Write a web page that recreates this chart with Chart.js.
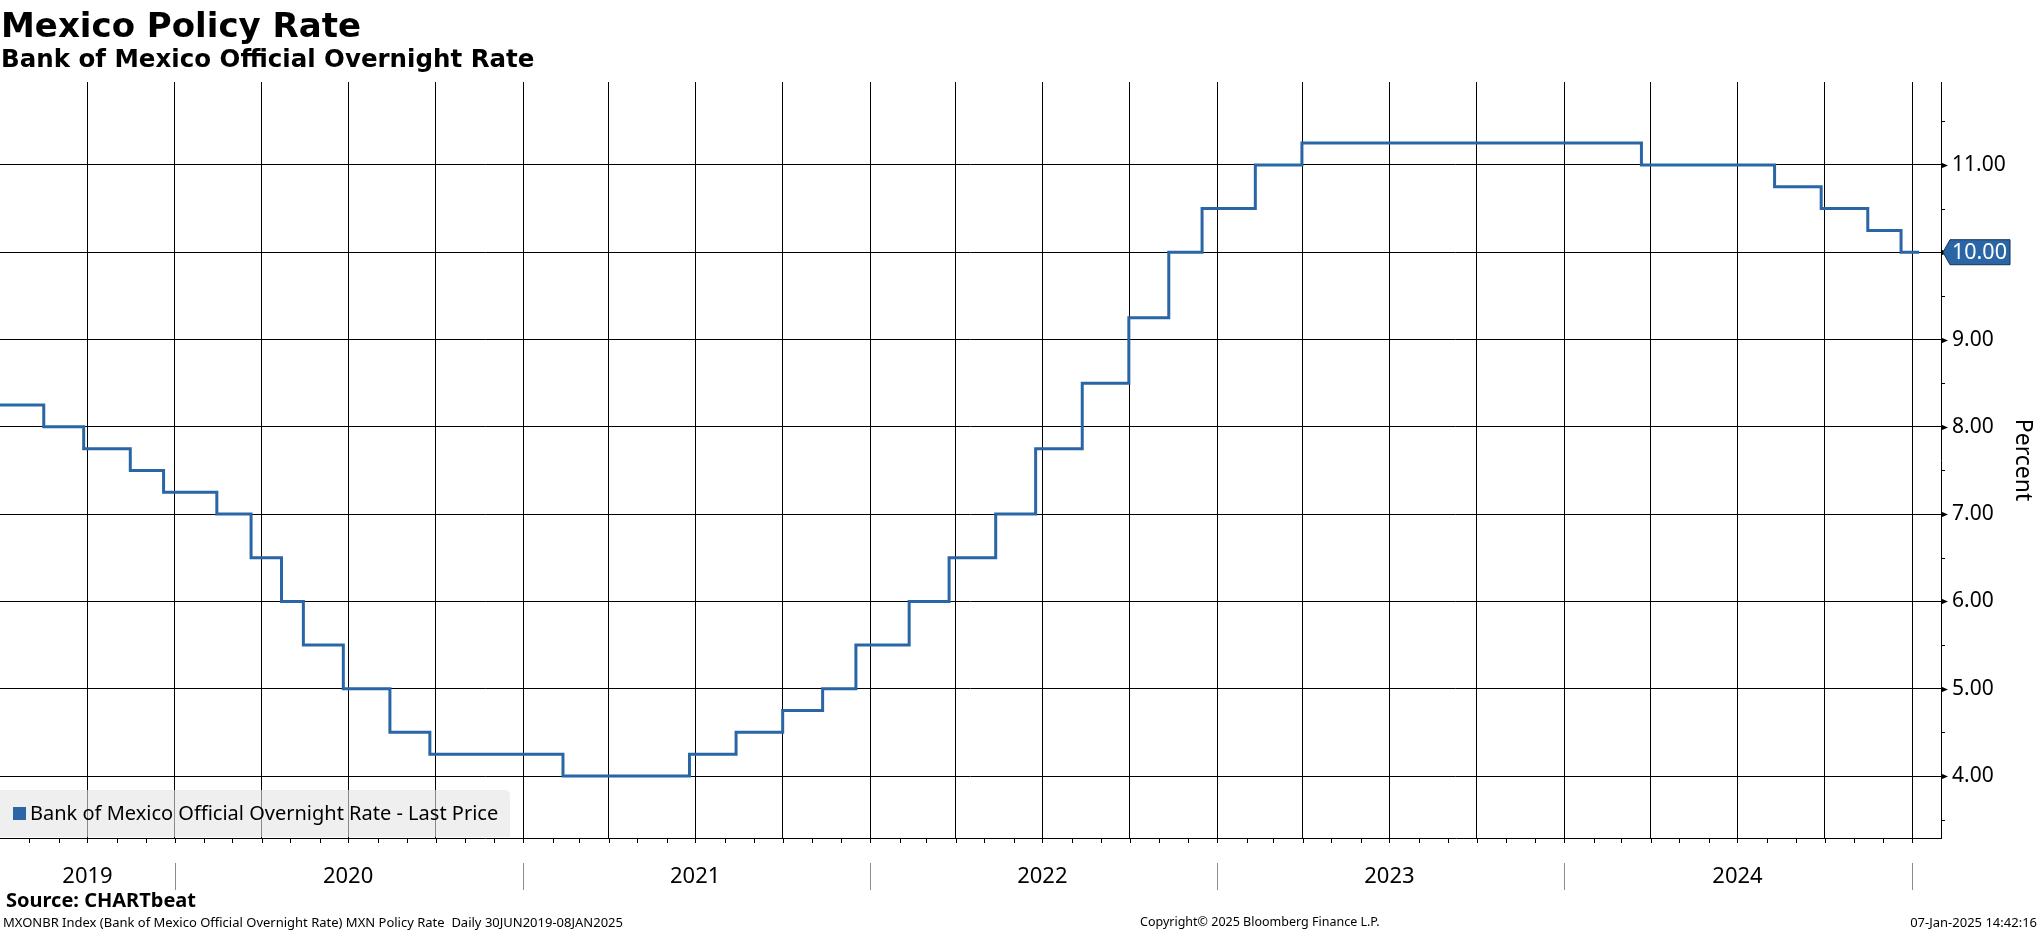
<!DOCTYPE html>
<html><head><meta charset="utf-8">
<script src="https://cdn.jsdelivr.net/npm/chart.js@4.4.1/dist/chart.umd.min.js"></script>
<style>
html,body{margin:0;padding:0;background:#fff;width:2041px;height:932px;overflow:hidden;}
#wrap{position:relative;width:2041px;height:932px;}
canvas{position:absolute;left:0;top:0;}
.t{position:absolute;white-space:nowrap;color:#000;font-family:"Noto Sans","DejaVu Sans",sans-serif;line-height:1;}
.h{font-family:"DejaVu Sans","Noto Sans",sans-serif;font-weight:bold;}
#legend{position:absolute;left:0;top:790px;width:510px;height:47px;background:rgba(228,228,228,0.6);border-top-right-radius:5px;}
#legend .sw{position:absolute;left:13px;top:17px;width:13px;height:13px;background:#2a66a6;}
#legend .lt{position:absolute;left:30px;top:11px;font-size:20px;font-family:"Noto Sans","DejaVu Sans",sans-serif;line-height:24px;white-space:nowrap;}
</style></head><body>
<div id="wrap">
<canvas id="c" width="2041" height="932"></canvas>
<div class="t h" style="left:1px;top:8px;font-size:34px;">Mexico Policy Rate</div>
<div class="t h" style="left:1px;top:47px;font-size:24.5px;">Bank of Mexico Official Overnight Rate</div>
<div id="legend"><div class="sw"></div><div class="lt">Bank of Mexico Official Overnight Rate - Last Price</div></div>
<div class="t" style="left:6px;top:890px;font-size:20px;font-weight:bold;">Source: CHARTbeat</div>
<div class="t" style="left:3px;top:916px;font-size:13px;">MXONBR Index (Bank of Mexico Official Overnight Rate) MXN Policy Rate&nbsp; Daily 30JUN2019-08JAN2025</div>
<div class="t" style="left:1140px;top:916px;font-size:12.5px;">Copyright© 2025 Bloomberg Finance L.P.</div>
<div class="t" style="right:4px;top:916px;font-size:13px;">07-Jan-2025 14:42:16</div>
</div>
<script>
// ---- data ----
const rateDates = ['2019-06-30','2019-08-16','2019-09-27','2019-11-15','2019-12-20','2020-02-14','2020-03-21','2020-04-22','2020-05-15','2020-06-26','2020-08-14','2020-09-25','2021-02-12','2021-06-25','2021-08-13','2021-10-01','2021-11-12','2021-12-17','2022-02-11','2022-03-25','2022-05-13','2022-06-24','2022-08-12','2022-09-30','2022-11-11','2022-12-16','2023-02-10','2023-03-31','2024-03-22','2024-08-09','2024-09-27','2024-11-15','2024-12-20','2025-01-08'];
const rateValues = [8.25,8.00,7.75,7.50,7.25,7.00,6.50,6.00,5.50,5.00,4.50,4.25,4.00,4.25,4.50,4.75,5.00,5.50,6.00,6.50,7.00,7.75,8.50,9.25,10.00,10.50,11.00,11.25,11.00,10.75,10.50,10.25,10.00,10.00];
const yTickValues = [4,5,6,7,8,9,10,11];
const yearLabels = ['2019','2020','2021','2022','2023','2024'];
const yearLabelDates = ['2019-10-01','2020-07-01','2021-07-01','2022-07-01','2023-07-01','2024-07-01'];
const yearStartDates = ['2020-01-01','2021-01-01','2022-01-01','2023-01-01','2024-01-01','2025-01-01'];
const xMinDate = '2019-07-01', xMaxDate = '2025-01-31';
const yMin = 3.29, yMax = 11.95;
const seriesLabel = 'Bank of Mexico Official Overnight Rate - Last Price';
const lastValue = rateValues[rateValues.length-1];

const FONT = '"Noto Sans","DejaVu Sans",sans-serif';
const day = s => Date.parse(s + 'T00:00:00Z') / 86400000;
const yearLabelDays = yearLabelDates.map(day);

// quarter gridline ticks and monthly minor ticks
const quarterTicks = [], monthTicks = [];
for (let y = 2019; y <= 2025; y++) {
  for (let m = 1; m <= 12; m++) {
    const s = y + '-' + String(m).padStart(2,'0') + '-01';
    const d = day(s);
    if (d <= day(xMinDate) || d > day(xMaxDate)) continue;
    monthTicks.push(d);
    if ((m - 1) % 3 === 0) quarterTicks.push(d);
  }
}

const decor = {
  id: 'decor',
  afterDraw(chart) {
    const ctx = chart.ctx, xs = chart.scales.x, ys = chart.scales.y, a = chart.chartArea;
    ctx.save();
    ctx.strokeStyle = '#000'; ctx.lineWidth = 1;
    // month minor ticks below x axis
    ctx.beginPath();
    monthTicks.forEach(d => { const x = Math.round(xs.getPixelForValue(d)) + 0.5; ctx.moveTo(x, a.bottom); ctx.lineTo(x, a.bottom + 5); });
    ctx.stroke();
    // year separators
    ctx.strokeStyle = '#8c8c8c';
    ctx.beginPath();
    yearStartDates.forEach(s => { const x = Math.round(xs.getPixelForValue(day(s))) + 0.5; ctx.moveTo(x, a.bottom + 25); ctx.lineTo(x, a.bottom + 52); });
    ctx.stroke();
    // y minor ticks
    ctx.strokeStyle = '#000';
    ctx.beginPath();
    for (let v = 3.5; v < yMax; v += 1) { const y = Math.round(ys.getPixelForValue(v)) + 0.5; ctx.moveTo(a.right, y); ctx.lineTo(a.right + 4, y); }
    ctx.stroke();
    // y major arrows
    ctx.fillStyle = '#000';
    yTickValues.forEach(v => { const y = Math.round(ys.getPixelForValue(v)) + 0.5; ctx.beginPath(); ctx.moveTo(a.right, y - 3); ctx.lineTo(a.right + 7, y); ctx.lineTo(a.right, y + 3); ctx.closePath(); ctx.fill(); });
    // axis title
    ctx.save();
    ctx.translate(2023, (a.top + a.bottom) / 2);
    ctx.rotate(Math.PI / 2);
    ctx.font = '23px ' + FONT; ctx.textAlign = 'center'; ctx.textBaseline = 'middle'; ctx.fillStyle = '#000';
    ctx.fillText('Percent', 0, 0);
    ctx.restore();
    // last value tag
    const ly = ys.getPixelForValue(lastValue);
    const x0 = a.right + 2, x1 = a.right + 9, x2 = a.right + 69, h = 12.5;
    ctx.beginPath();
    ctx.moveTo(x0, ly); ctx.lineTo(x1, ly - h); ctx.lineTo(x2, ly - h); ctx.lineTo(x2, ly + h); ctx.lineTo(x1, ly + h); ctx.closePath();
    ctx.fillStyle = '#2a66a6'; ctx.fill();
    ctx.strokeStyle = '#17324f'; ctx.lineWidth = 1; ctx.stroke();
    ctx.fillStyle = '#fff'; ctx.font = '21.5px ' + FONT; ctx.textAlign = 'left'; ctx.textBaseline = 'middle';
    ctx.fillText(lastValue.toFixed(2), a.right + 11, ly + 1);
    ctx.restore();
  }
};

new Chart(document.getElementById('c').getContext('2d'), {
  type: 'line',
  data: { datasets: [{
    label: seriesLabel,
    data: rateDates.map((d, i) => ({ x: day(d), y: rateValues[i] })),
    borderColor: '#2a66a6', borderWidth: 3, pointRadius: 0, stepped: 'before', fill: false, tension: 0
  }]},
  options: {
    responsive: false, animation: false, events: [],
    layout: { padding: { top: 82, left: 0, right: 0, bottom: 0 } },
    plugins: { legend: { display: false }, tooltip: { enabled: false }, title: { display: false } },
    scales: {
      x: {
        type: 'linear', min: day(xMinDate), max: day(xMaxDate),
        afterBuildTicks: s => { s.ticks = quarterTicks.map(v => ({ value: v })); },
        afterFit: s => { s.height = 94; },
        grid: { color: '#000', lineWidth: 1, drawTicks: false },
        border: { display: true, color: '#000', width: 1 },
        ticks: { autoSkip: false, maxRotation: 0, minRotation: 0, padding: 26, color: '#000', font: { family: FONT, size: 22 },
          callback: v => { const i = yearLabelDays.indexOf(v); return i >= 0 ? yearLabels[i] : ''; } }
      },
      y: {
        position: 'right', min: yMin, max: yMax,
        afterBuildTicks: s => { s.ticks = yTickValues.map(v => ({ value: v })); },
        afterFit: s => { s.width = 100; },
        grid: { color: '#000', lineWidth: 1, drawTicks: false },
        border: { display: true, color: '#000', width: 1 },
        ticks: { padding: 11, color: '#000', font: { family: FONT, size: 21 }, callback: v => Number(v).toFixed(2) }
      }
    }
  },
  plugins: [decor]
});
</script>
</body></html>
